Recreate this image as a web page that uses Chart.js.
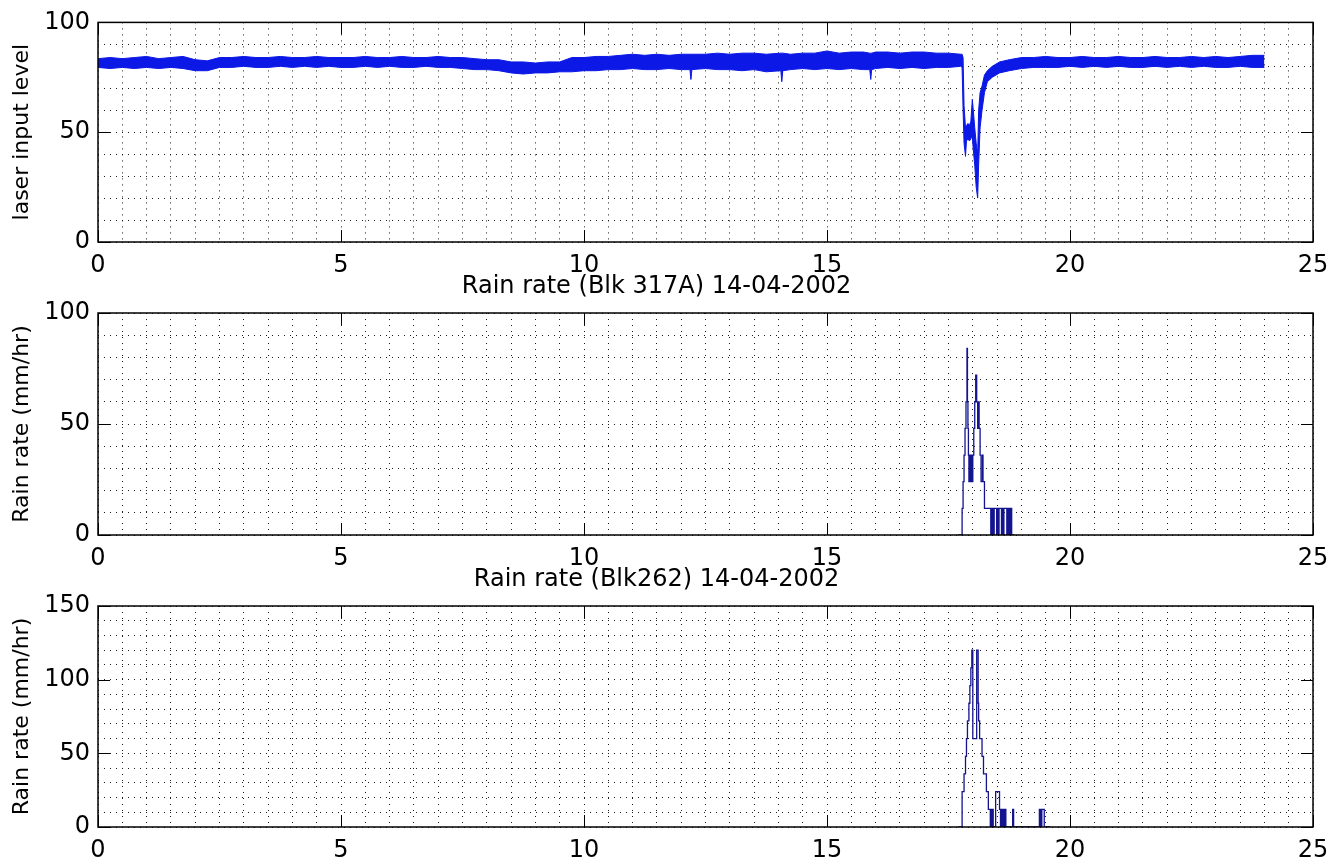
<!DOCTYPE html>
<html>
<head>
<meta charset="utf-8">
<script src="https://cdn.jsdelivr.net/npm/chart.js@4.4.1/dist/chart.umd.min.js"></script>
<style>
  html, body { margin: 0; padding: 0; background: #fff; overflow: hidden; }
  body { width: 1331px; height: 860px; position: relative; }
  .panel { position: absolute; left: 0; width: 1331px; }
</style>
</head>
<body>
<div class="panel" style="top:0;height:280px"><canvas id="laser"></canvas></div>
<div class="panel" style="top:262px;height:310px"><canvas id="rain317"></canvas></div>
<div class="panel" style="top:555px;height:305px"><canvas id="rain262"></canvas></div>
<script>
// laser input level: upper / lower edge of the noisy trace (hours)
const laserHours = [0,0.25,0.5,0.75,1,1.25,1.5,1.75,2,2.25,2.5,2.75,3,3.25,3.5,3.75,4,4.25,4.5,4.75,
  5,5.25,5.5,5.75,6,6.25,6.5,6.75,7,7.25,7.5,7.75,8,8.25,8.5,8.75,9,9.25,9.5,9.75,
  10,10.25,10.5,10.75,11,11.25,11.5,11.75,12,12.18,12.2,12.22,12.5,12.75,13,13.25,13.5,13.75,
  14.05,14.07,14.09,14.25,14.5,14.75,15,15.25,15.5,15.75,15.88,15.9,15.92,16,16.25,16.5,16.75,
  17,17.25,17.5,17.75,17.78,17.8,17.82,17.85,17.87,17.9,17.93,17.96,17.99,18.01,18.04,18.07,
  18.1,18.12,18.15,18.19,18.24,18.3,18.4,18.55,18.75,19,19.25,19.5,19.75,20,20.25,20.5,20.75,
  21,21.25,21.5,21.75,22,22.25,22.5,22.75,23,23.25,23.5,23.75,24];
const laserHigh = [83.5,84,83.5,84,84.5,83.5,84,84.5,83,82.5,84,84,84.5,84,84,84.5,84,84,84.5,84,
  84,84,84.5,84,84,84.5,84,84,84.5,84,84,83.5,83,83,82,82,81.5,82,82,84,
  84,84.5,84.5,85,85.5,85,85.5,85,85.5,85.5,85.5,85.5,85.5,86,85.5,86,86,85.5,
  86,86,86,85.5,86,86,87,86,86.5,86.5,86,86,86,86.5,86.5,86,86.5,
  86.5,86,86,85.5,85.5,84,62,52,53,54,53,55,65,60,52,45,
  40,60,68,71,76,78,80,82,83,84,84,84.5,84,84,84.5,84,84,
  84.5,84,84,84.5,84,84,84.5,84,84.5,84,84.5,85,85];
const laserLow = [79.5,79,79.5,79,79.5,79,79.5,79,78,78,79.5,79.5,80,79.5,79.5,80,79.5,80,79.5,80,
  79.5,79.5,80,79.5,80,79.5,79.5,80,79.5,79.5,79,78.5,78.5,78,77,76.5,77,77,77.5,77.5,
  78,78,78.5,78.5,79,78.5,78.5,79,78.5,78.5,74,78.5,79,78.5,78.5,78,78.5,77.5,
  78,73,78,78.5,79,78.5,79,78.5,79,78.5,78.5,74,78.5,79,79.5,79,79.5,
  79,79.5,79.5,80,79.5,60,45,39,46,47,46,47,48,42,35,25,
  20,35,52,60,68,73,75,77,78,79,79.5,79.5,79.5,80,79.5,80,79.5,
  80,79.5,79.5,80,79.5,80,79.5,80,79.5,79.5,80,79.5,79.5];

// rain rate Blk 317A (mm/hr), value starts at the given hour
const rain317Hours = [17.7,17.78,17.8,17.82,17.84,17.86,17.88,17.89,17.9,17.91,17.92,17.94,17.95,17.97,17.98,
  18,18.02,18.04,18.06,18.08,18.1,18.12,18.13,18.15,18.17,18.2,18.21,18.24,
  18.37,18.38,18.39,18.4,18.41,18.42,18.43,18.44,
  18.49,18.5,18.51,18.52,18.53,18.54,
  18.59,18.6,18.61,18.62,18.63,18.64,
  18.7,18.71,18.72,18.73,18.74,18.75,18.76,18.77,18.78,18.79,18.8,18.85];
const rain317Rate = [0,12,24,36,48,60,84,60,48,36,24,36,24,36,24,
  36,48,60,72,60,48,60,48,36,24,36,24,12,
  0,12,0,12,0,12,0,12,
  0,12,0,12,0,12,
  0,12,0,12,0,12,
  0,12,0,12,0,12,0,12,0,12,0,0];

// rain rate Blk262 (mm/hr)
const rain262Hours = [17.7,17.78,17.82,17.85,17.87,17.89,17.92,17.94,17.96,17.98,18,18.08,18.11,18.12,18.14,
  18.19,18.22,18.28,18.32,18.36,18.38,18.4,18.41,18.42,18.47,18.55,
  18.57,18.58,18.59,18.6,18.61,18.62,18.63,18.64,18.66,18.67,18.68,
  18.82,18.84,19.37,19.39,19.4,19.41,19.42,19.47,19.6];
const rain262Rate = [0,24,36,48,60,72,84,96,108,120,60,120,84,72,60,
  48,36,24,12,0,12,0,12,0,24,12,
  0,12,0,12,0,12,0,12,0,12,0,
  12,0,12,0,12,0,12,0,0];

const xTicks = [0, 5, 10, 15, 20, 25];
const fontFamily = 'DejaVu Sans';

const pts = (xs, ys) => xs.map((x, i) => ({ x, y: ys[i] }));

// black box + short inner ticks at the labelled values
const framePlugin = {
  id: 'frame',
  afterDatasetsDraw(chart) {
    const { ctx, chartArea: a, scales: { x, y } } = chart;
    ctx.save();
    ctx.strokeStyle = '#000';
    ctx.lineWidth = 1;
    ctx.beginPath();
    xTicks.forEach(v => {
      const px = Math.round(x.getPixelForValue(v)) + 0.5;
      ctx.moveTo(px, a.bottom); ctx.lineTo(px, a.bottom - 12);
      ctx.moveTo(px, a.top); ctx.lineTo(px, a.top + 12);
    });
    y.ticks.filter(t => t.value % 50 === 0).forEach(t => {
      const py = Math.round(y.getPixelForValue(t.value)) + 0.5;
      ctx.moveTo(a.left, py); ctx.lineTo(a.left + 12, py);
      ctx.moveTo(a.right, py); ctx.lineTo(a.right - 12, py);
    });
    ctx.stroke();
    ctx.lineWidth = 1.5;
    ctx.strokeRect(a.left, a.top, a.width, a.height);
    ctx.restore();
  }
};

function buildOptions(yMax, yTitle, title, xHeight, padTop) {
  const grid = { color: '#1a1a1a', lineWidth: 1, drawTicks: false };
  const border = { display: false, dash: [1, 5] };
  return {
    responsive: true,
    maintainAspectRatio: false,
    animation: false,
    layout: { padding: { top: padTop, right: 18, left: 0, bottom: 0 } },
    plugins: {
      legend: { display: false },
      tooltip: { enabled: false },
      title: {
        display: !!title,
        text: title,
        color: '#000',
        font: { family: fontFamily, size: 24, weight: 'normal' },
        padding: { top: 10, bottom: 12.2 }
      }
    },
    scales: {
      x: {
        type: 'linear', min: 0, max: 25,
        afterFit: s => { s.height = xHeight; s.paddingLeft = 0; s.paddingRight = 0; },
        ticks: {
          stepSize: 0.5, autoSkip: false, maxRotation: 0, minRotation: 0, padding: 9,
          color: '#000', font: { family: fontFamily, size: 24 },
          callback: v => (v % 5 === 0 ? v : '')
        },
        grid, border
      },
      y: {
        min: 0, max: yMax,
        afterFit: s => { s.width = 98; },
        ticks: {
          stepSize: 10, autoSkip: false, padding: 8,
          color: '#000', font: { family: fontFamily, size: 24 },
          callback: v => (v % 50 === 0 ? v : '')
        },
        title: {
          display: true, text: yTitle, color: '#000',
          font: { family: fontFamily, size: 22 },
          padding: { top: 9, bottom: 0 }
        },
        grid, border
      }
    }
  };
}

const bandBlue = '#0b18e6';
const rainBlue = '#14148f';

new Chart(document.getElementById('laser'), {
  type: 'line',
  data: {
    datasets: [
      { data: pts(laserHours, laserHigh), borderColor: bandBlue, backgroundColor: bandBlue,
        borderWidth: 1, pointRadius: 0, fill: '+1' },
      { data: pts(laserHours, laserLow), borderColor: bandBlue, backgroundColor: bandBlue,
        borderWidth: 1, pointRadius: 0, fill: false }
    ]
  },
  options: buildOptions(100, 'laser input level', '', 38, 20),
  plugins: [framePlugin]
});

new Chart(document.getElementById('rain317'), {
  type: 'line',
  data: {
    datasets: [
      { data: pts(rain317Hours, rain317Rate), borderColor: rainBlue, borderWidth: 1.3,
        pointRadius: 0, stepped: true, fill: false }
    ]
  },
  options: buildOptions(100, 'Rain rate (mm/hr)', 'Rain rate (Blk 317A) 14-04-2002', 37, 0),
  plugins: [framePlugin]
});

new Chart(document.getElementById('rain262'), {
  type: 'line',
  data: {
    datasets: [
      { data: pts(rain262Hours, rain262Rate), borderColor: rainBlue, borderWidth: 1.3,
        pointRadius: 0, stepped: true, fill: false }
    ]
  },
  options: buildOptions(150, 'Rain rate (mm/hr)', 'Rain rate (Blk262) 14-04-2002', 33, 0),
  plugins: [framePlugin]
});
</script>
</body>
</html>
